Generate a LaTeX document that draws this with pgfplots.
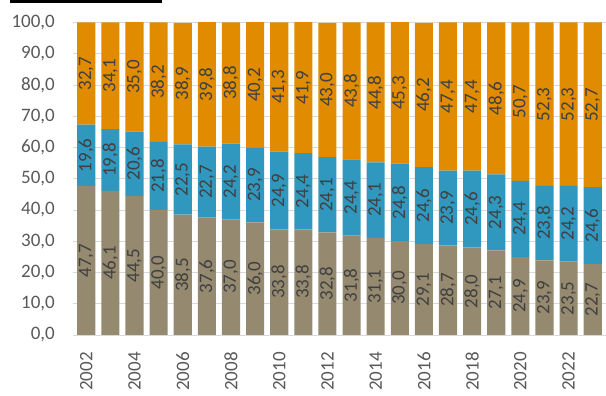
\documentclass[border=0pt]{standalone}
\usepackage{pgfplots}
\pgfplotsset{compat=1.18}
\usepackage{pgfplotstable}
\usepackage{fontspec}
\setmainfont{Carlito}
\definecolor{cTaupe}{RGB}{149,138,112}
\definecolor{cBlue}{RGB}{48,152,190}
\definecolor{cOrange}{RGB}{224,139,0}
\definecolor{cTick}{RGB}{89,89,89}
\definecolor{cVal}{RGB}{64,64,64}
\definecolor{cGrid}{RGB}{217,217,217}

\pgfplotstableread{
x a b c
0 47.7 19.6 32.7
1 46.1 19.8 34.1
2 44.5 20.6 35.0
3 40.0 21.8 38.2
4 38.5 22.5 38.9
5 37.6 22.7 39.8
6 37.0 24.2 38.8
7 36.0 23.9 40.2
8 33.8 24.9 41.3
9 33.8 24.4 41.9
10 32.8 24.1 43.0
11 31.8 24.4 43.8
12 31.1 24.1 44.8
13 30.0 24.8 45.3
14 29.1 24.6 46.2
15 28.7 23.9 47.4
16 28.0 24.6 47.4
17 27.1 24.3 48.6
18 24.9 24.4 50.7
19 23.9 23.8 52.3
20 23.5 24.2 52.3
21 22.7 24.6 52.7
}\datatable

\pgfplotsset{
  common/.style={
    at={(73pt,61pt)}, anchor=south west,
    scale only axis, width=533pt, height=312.5pt,
    xmin=-0.55, xmax=21.55, ymin=0, ymax=100,
  }
}

\begin{document}
\fontsize{19pt}{22pt}\selectfont
\begin{tikzpicture}
\path[use as bounding box] (0,0) rectangle (606pt,396pt);
\fill[black] (10pt,393pt) rectangle (162pt,396pt);
\begin{axis}[
  common,
  ybar stacked, bar width=0.75,
  axis line style={draw=none},
  tick style={draw=none},
  ymajorgrids, major grid style={cGrid, line width=0.8pt},
  ytick={0,10,...,100},
  xtick={0,2,...,20},
  xticklabels={2002,2004,2006,2008,2010,2012,2014,2016,2018,2020,2022},
  /pgf/number format/.cd, use comma, fixed, fixed zerofill, precision=1, assume math mode=true,
  /pgfplots/.cd,
  yticklabel style={anchor=east, inner sep=0pt, xshift=-18pt, text=cTick, font=\fontsize{19pt}{22pt}\selectfont},
  xticklabel style={yshift=-17pt, rotate=90, anchor=east, inner sep=0pt, text=cTick, font=\fontsize{19pt}{22pt}\selectfont},
]
\addplot[fill=cTaupe, draw=none] table[x=x, y=a] {\datatable};
\addplot[fill=cBlue, draw=none] table[x=x, y=b] {\datatable};
\addplot[fill=cOrange, draw=none] table[x=x, y=c] {\datatable};
\end{axis}
\begin{axis}[
  common, hide axis, clip=false,
  /pgf/number format/.cd, use comma, fixed, fixed zerofill, precision=1, assume math mode=true,
  /pgfplots/.cd,
  point meta=explicit,
  nodes near coords,
  every node near coord/.append style={rotate=90, anchor=center, inner sep=0pt, text=cVal, font=\fontsize{19pt}{22pt}\selectfont},
]
\addplot[draw=none, mark=none] table[x=x, y expr={\thisrow{a}/2}, meta=a] {\datatable};
\addplot[draw=none, mark=none] table[x=x, y expr={\thisrow{a}+\thisrow{b}/2}, meta=b] {\datatable};
\addplot[draw=none, mark=none] table[x=x, y expr={\thisrow{a}+\thisrow{b}+\thisrow{c}/2}, meta=c] {\datatable};
\end{axis}
\end{tikzpicture}
\end{document}
